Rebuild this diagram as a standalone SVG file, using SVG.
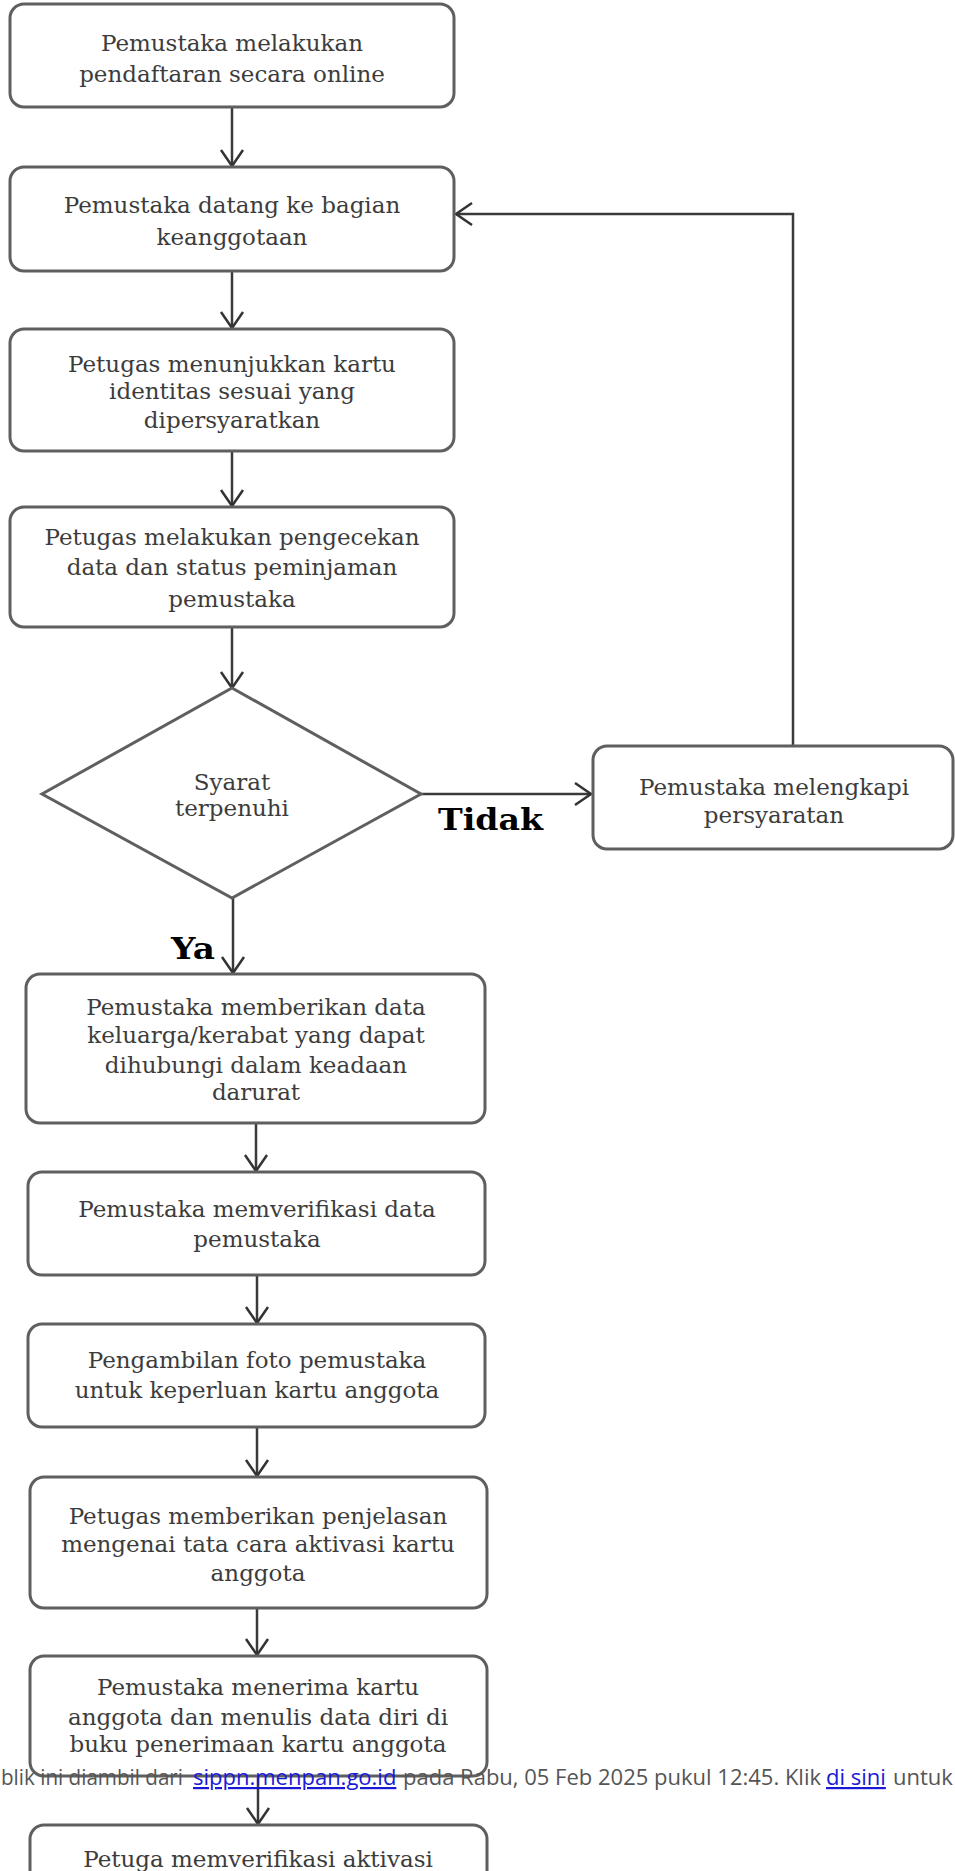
<svg xmlns="http://www.w3.org/2000/svg" width="955" height="1871" viewBox="0 0 955 1871">
<style>
.box{fill:#fff;stroke:#5f5f5f;stroke-width:3}
.t{font-family:"DejaVu Serif","Liberation Serif",serif;font-size:23px;fill:#3c3c3c;text-anchor:middle}
.lbl{font-family:"DejaVu Serif","Liberation Serif",serif;font-size:29px;font-weight:bold;fill:#000}
.con{fill:none;stroke:#3a3a3a;stroke-width:2.5}
.ov{font-family:"Open Sans","Noto Sans",sans-serif;font-size:22px;fill:#555}
.lnk{fill:#1a1ad6;text-decoration:underline}
</style>
<defs>
<marker id="ah" markerUnits="userSpaceOnUse" markerWidth="40" markerHeight="40" refX="0" refY="0" orient="auto" overflow="visible">
<path d="M-16,-11 L0,0 L-16,11" fill="none" stroke="#333" stroke-width="2.5"/>
</marker>
</defs>
<rect width="955" height="1871" fill="#fff"/>
<g id="connectors">
<path class="con" d="M232,107 L232,166" marker-end="url(#ah)"/>
<path class="con" d="M232,271 L232,328" marker-end="url(#ah)"/>
<path class="con" d="M232,451 L232,506" marker-end="url(#ah)"/>
<path class="con" d="M232,627 L232,688" marker-end="url(#ah)"/>
<path class="con" d="M421,794 L591,794" marker-end="url(#ah)"/>
<path class="con" d="M793,746 L793,214 L456,214" stroke="#111" marker-end="url(#ah)"/>
<path class="con" d="M233,898 L233,973" marker-end="url(#ah)"/>
<path class="con" d="M256,1123 L256,1171" marker-end="url(#ah)"/>
<path class="con" d="M257,1275 L257,1323" marker-end="url(#ah)"/>
<path class="con" d="M257,1427 L257,1476" marker-end="url(#ah)"/>
<path class="con" d="M257,1608 L257,1655" marker-end="url(#ah)"/>
<path class="con" d="M258,1776 L258,1824" marker-end="url(#ah)"/>
</g>
<g id="n1"><rect class="box" x="10" y="4" width="444" height="103" rx="14"/>
<text class="t" x="232" y="51">Pemustaka melakukan</text><text class="t" x="232" y="82">pendaftaran secara online</text></g>
<g id="n2"><rect class="box" x="10" y="167" width="444" height="104" rx="14"/>
<text class="t" x="232" y="213">Pemustaka datang ke bagian</text><text class="t" x="232" y="245">keanggotaan</text></g>
<g id="n3"><rect class="box" x="10" y="329" width="444" height="122" rx="14"/>
<text class="t" x="232" y="372">Petugas menunjukkan kartu</text><text class="t" x="232" y="399">identitas sesuai yang</text><text class="t" x="232" y="428">dipersyaratkan</text></g>
<g id="n4"><rect class="box" x="10" y="507" width="444" height="120" rx="14"/>
<text class="t" x="232" y="545">Petugas melakukan pengecekan</text><text class="t" x="232" y="575">data dan status peminjaman</text><text class="t" x="232" y="607">pemustaka</text></g>
<g id="decision"><polygon class="box" points="232,688 421,794 232,898 42,794"/>
<text class="t" x="232" y="790">Syarat</text><text class="t" x="232" y="816">terpenuhi</text></g>
<g id="n_lengkapi"><rect class="box" x="593" y="746" width="360" height="103" rx="14"/>
<text class="t" x="774" y="795">Pemustaka melengkapi</text><text class="t" x="774" y="823">persyaratan</text></g>
<g id="n5"><rect class="box" x="26" y="974" width="459" height="149" rx="14"/>
<text class="t" x="256" y="1015">Pemustaka memberikan data</text><text class="t" x="256" y="1043">keluarga/kerabat yang dapat</text><text class="t" x="256" y="1073">dihubungi dalam keadaan</text><text class="t" x="256" y="1100">darurat</text></g>
<g id="n6"><rect class="box" x="28" y="1172" width="457" height="103" rx="14"/>
<text class="t" x="257" y="1217">Pemustaka memverifikasi data</text><text class="t" x="257" y="1247">pemustaka</text></g>
<g id="n7"><rect class="box" x="28" y="1324" width="457" height="103" rx="14"/>
<text class="t" x="257" y="1368">Pengambilan foto pemustaka</text><text class="t" x="257" y="1398">untuk keperluan kartu anggota</text></g>
<g id="n8"><rect class="box" x="30" y="1477" width="457" height="131" rx="14"/>
<text class="t" x="258" y="1524">Petugas memberikan penjelasan</text><text class="t" x="258" y="1552">mengenai tata cara aktivasi kartu</text><text class="t" x="258" y="1581">anggota</text></g>
<g id="n9"><rect class="box" x="30" y="1656" width="457" height="120" rx="14"/>
<text class="t" x="258" y="1695">Pemustaka menerima kartu</text><text class="t" x="258" y="1725">anggota dan menulis data diri di</text><text class="t" x="258" y="1752">buku penerimaan kartu anggota</text></g>
<g id="n10"><rect class="box" x="30" y="1825" width="457" height="90" rx="14"/>
<text class="t" x="258" y="1867">Petuga memverifikasi aktivasi</text></g>
<g id="labels">
<text class="lbl" x="438" y="830" textLength="105" lengthAdjust="spacingAndGlyphs">Tidak</text>
<text class="lbl" x="171" y="959" textLength="44" lengthAdjust="spacingAndGlyphs">Ya</text>
</g>
<g id="overlay">
<text class="ov" x="1" y="1785" textLength="182" lengthAdjust="spacingAndGlyphs">blik ini diambil dari</text>
<text class="ov lnk" x="193" y="1785">sippn.menpan.go.id</text>
<text class="ov" x="403" y="1785">pada Rabu, 05 Feb 2025 pukul 12:45. Klik</text>
<text class="ov lnk" x="826" y="1785">di sini</text>
<text class="ov" x="893" y="1785">untuk</text>
</g>
</svg>
